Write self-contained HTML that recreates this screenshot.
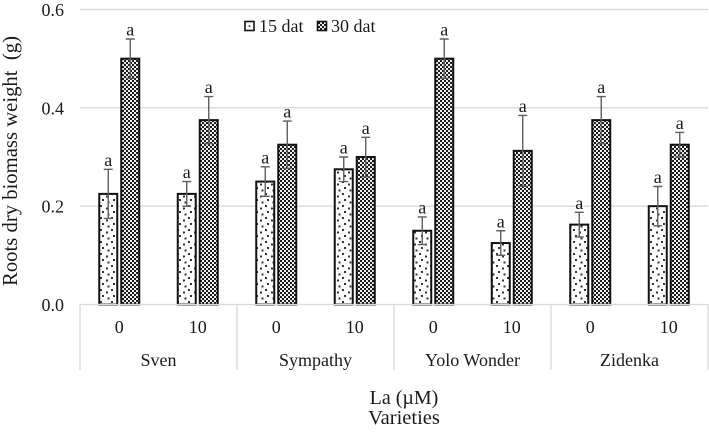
<!DOCTYPE html>
<html>
<head>
<meta charset="utf-8">
<style>
html,body{margin:0;padding:0;background:#fff;width:709px;height:434px;overflow:hidden}
svg{display:block;font-family:"Liberation Serif",serif;fill:#111}
text{fill:#1a1a1a}
</style>
</head>
<body>
<svg id="chart" width="709" height="434" viewBox="0 0 709 434" xmlns="http://www.w3.org/2000/svg">
<defs>
<pattern id="dots" width="11" height="12" patternUnits="userSpaceOnUse" x="99" y="0">
<rect width="11" height="12" fill="#fff"/>
<rect x="1" y="1" width="2" height="2" fill="#333"/>
<rect x="7" y="3.5" width="2" height="2" fill="#333"/>
<rect x="3" y="7" width="2" height="2" fill="#333"/>
<rect x="8.5" y="9.5" width="2" height="2" fill="#333"/>
</pattern>
<pattern id="check" width="4" height="4" patternUnits="userSpaceOnUse">
<rect width="4" height="4" fill="#eee"/>
<rect width="2" height="2" fill="#1c1c1c"/>
<rect x="2" y="2" width="2" height="2" fill="#1c1c1c"/>
</pattern>
</defs>
<g id="grid"></g>
<g id="bars"></g>
<g id="axis"></g>
<text transform="translate(17,161) rotate(-90)" text-anchor="middle" font-size="20.7" xml:space="preserve">Roots dry biomass weight  (g)</text>
<g>
<rect x="245" y="21.5" width="9" height="9" fill="#fff" stroke="#111" stroke-width="1.6"/>
<rect x="248.7" y="25.2" width="1.6" height="1.6" fill="#222"/>
<text x="259" y="32" font-size="18">15 dat</text>
<rect x="317.5" y="21.5" width="9" height="9" fill="url(#check)" stroke="#111" stroke-width="1.6"/>
<text x="331" y="32" font-size="18">30 dat</text>
</g>
<text x="404" y="404" text-anchor="middle" font-size="20">La (µM)</text>
<text x="404" y="424" text-anchor="middle" font-size="20.5">Varieties</text>
</svg>
<script>
const varieties = ["Sven", "Sympathy", "Yolo Wonder", "Zidenka"];
const doses = ["0", "10", "0", "10", "0", "10", "0", "10"];
const yTicks = ["0.0", "0.2", "0.4", "0.6"];
const values15 = [0.225, 0.225, 0.25, 0.275, 0.15, 0.125, 0.1625, 0.2];
const errors15 = [0.05, 0.025, 0.03, 0.025, 0.028, 0.025, 0.025, 0.04];
const values30 = [0.5, 0.375, 0.325, 0.3, 0.5, 0.3125, 0.375, 0.325];
const errors30 = [0.04, 0.048, 0.048, 0.04, 0.04, 0.072, 0.048, 0.025];
const letters15 = ["a", "a", "a", "a", "a", "a", "a", "a"];
const letters30 = ["a", "a", "a", "a", "a", "a", "a", "a"];

const NS = "http://www.w3.org/2000/svg";
const plotLeft = 80, plotRight = 708, y0 = 304.5, y6 = 9.5;
const yScale = v => y0 - (v / 0.6) * (y0 - y6);
const catW = (plotRight - plotLeft) / doses.length;
const catX = i => plotLeft + catW * i;
const barW = 18, barGap = 4;

function mk(parent, tag, attrs, txt) {
  const el = document.createElementNS(NS, tag);
  for (const k in attrs) el.setAttribute(k, attrs[k]);
  if (txt !== undefined) el.textContent = txt;
  parent.appendChild(el);
  return el;
}
const grid = document.getElementById("grid");
const bars = document.getElementById("bars");
const axis = document.getElementById("axis");
const gridColor = "#d9d9d9";

yTicks.forEach(t => {
  const v = parseFloat(t);
  const y = yScale(v);
  if (v > 0) {
    const gl = mk(grid, "line", {x1: plotLeft, x2: plotRight, y1: y, y2: y, stroke: gridColor, "stroke-width": 1.3});
    
    
  }
  const tl = mk(axis, "text", {x: 64, y: y + 6.5, "text-anchor": "end", "font-size": 18}, t);
  
  
});

function drawSeries(vals, errs, letters, xOffset, fill) {
  vals.forEach((v, i) => {
    const x = catX(i) + catW / 2 + xOffset;
    const top = yScale(v);
    const r = mk(bars, "rect", {x: x, y: top, width: barW, height: y0 - top, fill: fill, stroke: "#111", "stroke-width": 2});
    
    
    const cx = x + barW / 2;
    const yHi = yScale(v + errs[i]), yLo = yScale(v - errs[i]);
    const e = mk(bars, "path", {
      d: "M" + cx + " " + yHi + "V" + yLo + "M" + (cx - 4.5) + " " + yHi + "H" + (cx + 4.5) + "M" + (cx - 4.5) + " " + yLo + "H" + (cx + 4.5),
      stroke: "#5f5f5f", "stroke-width": 1.4, fill: "none"
    });
    
    
    const l = mk(bars, "text", {x: cx, y: yHi - 3.5, "text-anchor": "middle", "font-size": 18}, letters[i]);
    
    
  });
}
drawSeries(values15, errors15, letters15, -barW - barGap / 2, "url(#dots)");
drawSeries(values30, errors30, letters30, barGap / 2, "url(#check)");

const base = mk(axis, "line", {x1: plotLeft, x2: plotRight, y1: y0, y2: y0, stroke: gridColor, "stroke-width": 1.3});



doses.forEach((d, i) => {
  const t = mk(axis, "text", {x: catX(i) + catW / 2, y: 333, "text-anchor": "middle", "font-size": 18}, d);
  
  
});
const perGroup = doses.length / varieties.length;
varieties.forEach((name, g) => {
  const t = mk(axis, "text", {x: catX(g * perGroup) + catW * perGroup / 2, y: 366, "text-anchor": "middle", "font-size": 18}, name);
  
  
});
for (let g = 0; g <= varieties.length; g++) {
  const x = catX(g * perGroup);
  const s = mk(axis, "line", {x1: x, x2: x, y1: y0, y2: 370, stroke: gridColor, "stroke-width": 1.3});
  
  
}
</script>
</body>
</html>
